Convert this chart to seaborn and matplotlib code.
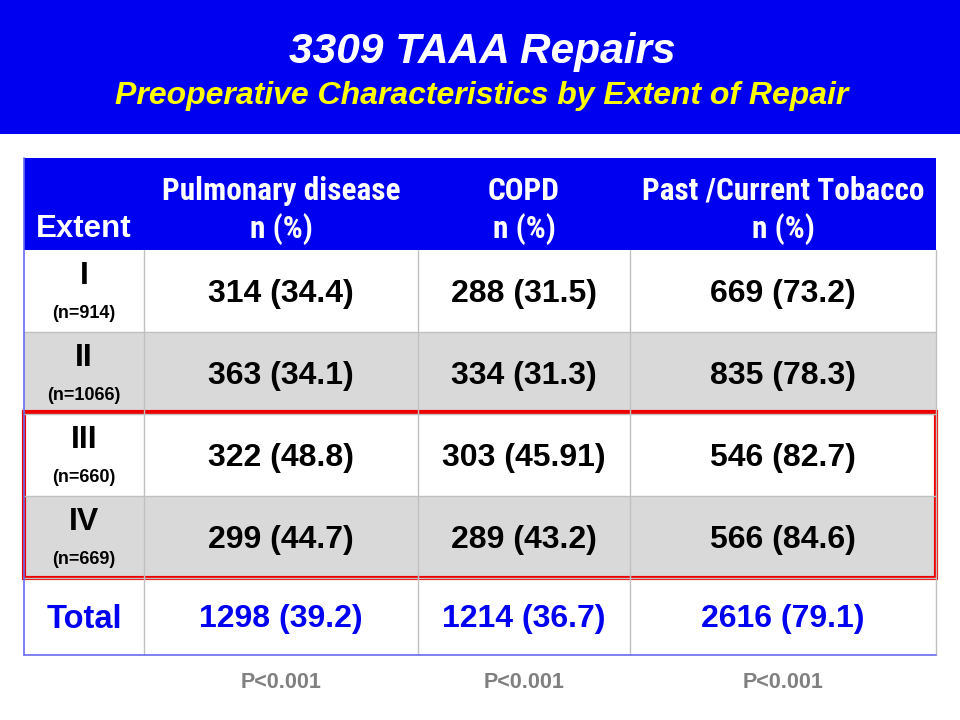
import matplotlib.pyplot as plt
import seaborn as sns
from matplotlib.patches import Rectangle

# table contents
header_top = ['', 'Pulmonary disease', 'COPD', 'Past /Current Tobacco']
header_bottom = ['Extent', 'n (%)', 'n (%)', 'n (%)']
extents = ['I', 'II', 'III', 'IV']
extent_n = ['(n=914)', '(n=1066)', '(n=660)', '(n=669)']
pulmonary = ['314 (34.4)', '363 (34.1)', '322 (48.8)', '299 (44.7)']
copd = ['288 (31.5)', '334 (31.3)', '303 (45.91)', '289 (43.2)']
tobacco = ['669 (73.2)', '835 (78.3)', '546 (82.7)', '566 (84.6)']
totals = ['1298 (39.2)', '1214 (36.7)', '2616 (79.1)']
pvalues = ['P<0.001', 'P<0.001', 'P<0.001']

title = '3309 TAAA Repairs'
subtitle = 'Preoperative Characteristics by Extent of Repair'

sns.set_theme(style='white')
FONT = ['Liberation Sans', 'DejaVu Sans']
NARROW = ['Roboto Condensed', 'Liberation Sans', 'DejaVu Sans']
plt.rcParams['font.family'] = FONT

BLUE = '#0000f0'
GRAY = '#d9d9d9'
LINE = '#c0c0c0'

col_edges = [24, 144, 418, 630, 936]
row_edges = [158, 250, 332, 414, 496, 578, 655]


def put(ax, x, y, s, size=23, color='black', family=FONT, **kw):
    ax.text(x, y, s, fontsize=size, fontweight='bold', color=color,
            ha='center', va='center', family=family, **kw)


fig = plt.figure(figsize=(9.6, 7.2), dpi=100)
ax = fig.add_axes([0, 0, 1, 1])
ax.set_xlim(0, 960)
ax.set_ylim(720, 0)
ax.axis('off')

# banner
ax.add_patch(Rectangle((0, 0), 960, 134, color=BLUE, lw=0))
put(ax, 482, 52, title, size=30.5, color='white', fontstyle='italic')
put(ax, 482, 96, subtitle, size=23, color='#ffff00', fontstyle='italic')

# header row
ax.add_patch(Rectangle((col_edges[0], row_edges[0]), col_edges[-1] - col_edges[0],
                       row_edges[1] - row_edges[0], color=BLUE, lw=0))
for i in range(len(header_top)):
    cx = (col_edges[i] + col_edges[i + 1]) / 2
    if i == 0:
        put(ax, cx, 229, header_bottom[i], size=22.5, color='white')
    else:
        put(ax, cx, 191, header_top[i], size=22.5, color='white', family=NARROW)
        put(ax, cx, 229, header_bottom[i], size=22.5, color='white', family=NARROW)

# body rows
columns = [pulmonary, copd, tobacco]
for r in range(len(extents)):
    y0, y1 = row_edges[r + 1], row_edges[r + 2]
    if r % 2 == 1:
        ax.add_patch(Rectangle((col_edges[0], y0), col_edges[-1] - col_edges[0],
                               y1 - y0, color=GRAY, lw=0))
    cx = (col_edges[0] + col_edges[1]) / 2
    put(ax, cx, y0 + 26, extents[r])
    put(ax, cx, y0 + 64, extent_n[r], size=13)
    for c, col in enumerate(columns):
        cx = (col_edges[c + 1] + col_edges[c + 2]) / 2
        put(ax, cx, (y0 + y1) / 2 + 3, col[r])

# total row
y0, y1 = row_edges[-2], row_edges[-1]
put(ax, (col_edges[0] + col_edges[1]) / 2, (y0 + y1) / 2 + 3, 'Total', size=23.5, color=BLUE)
for c, t in enumerate(totals):
    cx = (col_edges[c + 1] + col_edges[c + 2]) / 2
    put(ax, cx, (y0 + y1) / 2 + 3, t, color=BLUE)

# grid lines
for x in col_edges[1:-1]:
    ax.plot([x, x], [row_edges[1], row_edges[-1]], color=LINE, lw=1)
for y in row_edges[2:-1]:
    ax.plot([col_edges[0], col_edges[-1]], [y, y], color=LINE, lw=1)
ax.plot([col_edges[-1], col_edges[-1]], [row_edges[1], row_edges[-1]], color=LINE, lw=1)
ax.plot([col_edges[0], col_edges[0]], [row_edges[0], row_edges[-1]], color='#6a6af0', lw=1.2)
ax.plot([col_edges[0], col_edges[-1]], [row_edges[-1], row_edges[-1]], color='#6a6af0', lw=1.2)

# highlight box around extents III and IV
ax.add_patch(Rectangle((col_edges[0], 412), col_edges[-1] - col_edges[0], 166,
                       fill=False, edgecolor='#ee0000', lw=3))

# p-values
for c, p in enumerate(pvalues):
    cx = (col_edges[c + 1] + col_edges[c + 2]) / 2
    put(ax, cx, 682, p, size=15.5, color='#808080')

fig.savefig('out.png', dpi=100)
